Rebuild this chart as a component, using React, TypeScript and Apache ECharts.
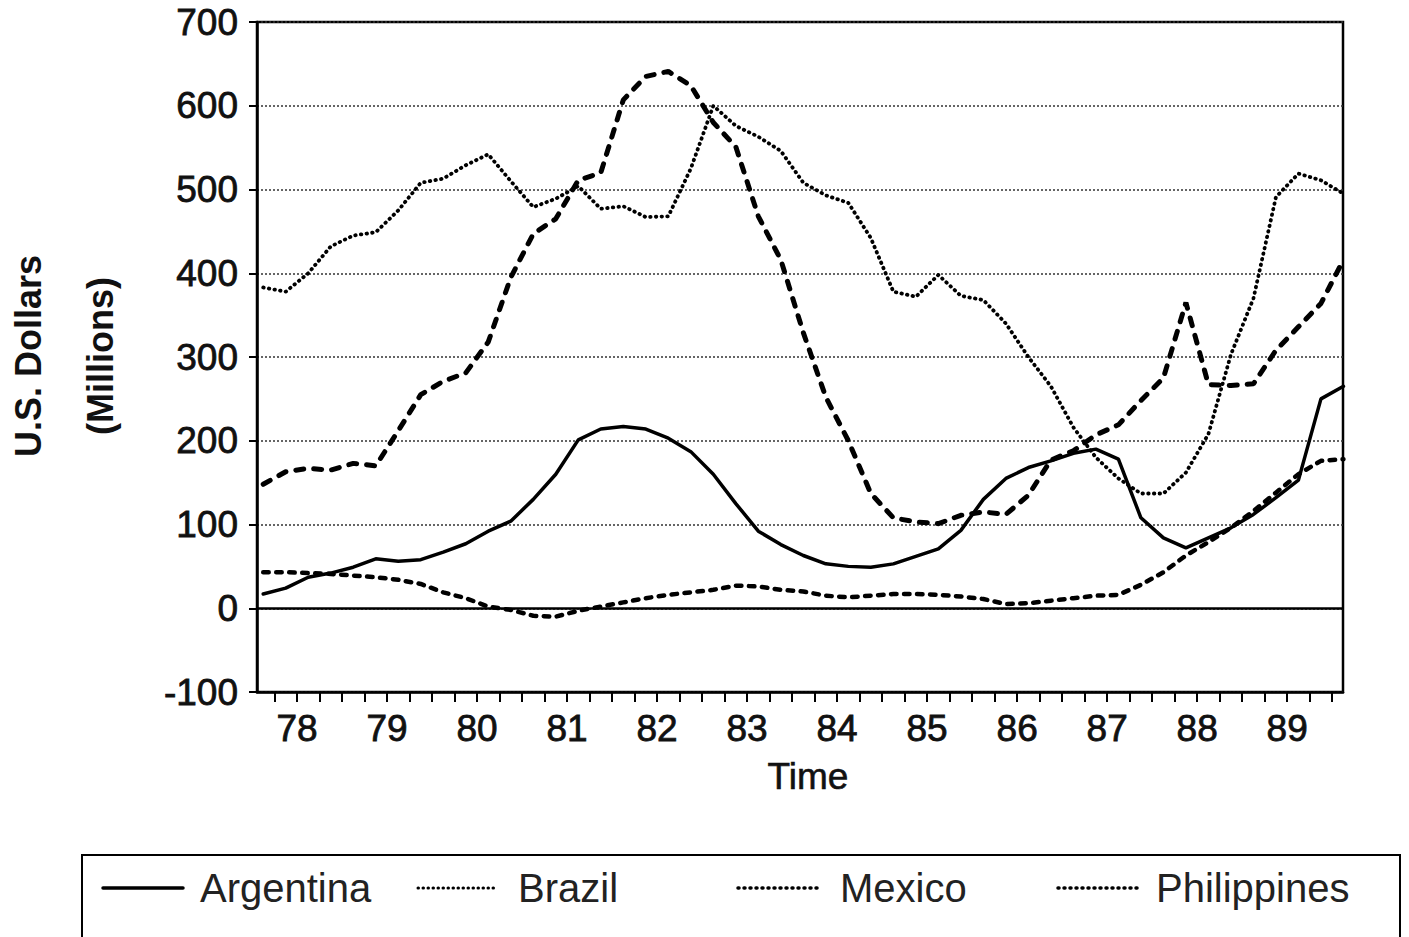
import React, { useEffect, useRef } from "react";
import * as echarts from "echarts";

// Quarterly observations, 1978Q1 .. 1990Q1
const QUARTERS: string[] = [];
for (let y = 1978; y <= 1990; y++) {
  for (let q = 1; q <= 4; q++) {
    if (y === 1990 && q > 1) break;
    QUARTERS.push(`${y}Q${q}`);
  }
}
// year label "78" is centred on the middle of 1978
const quarterToAxis = (s: string) => {
  const y = Number(s.slice(2, 4));
  const q = Number(s.slice(5));
  return y - 0.375 + 0.25 * (q - 1);
};

const YEAR_LABELS = [78, 79, 80, 81, 82, 83, 84, 85, 86, 87, 88, 89];
const Y_TICKS = [-100, 0, 100, 200, 300, 400, 500, 600, 700];

const SERIES_NAMES = ["Argentina", "Brazil", "Mexico", "Philippines"];

const ARGENTINA = [
  17, 24, 37, 42, 49, 59, 56, 58, 67, 77, 92, 104, 130, 160, 201, 214, 217, 214, 203, 187,
  160, 125, 92, 76, 63, 53, 50, 49, 53, 62, 71, 93, 130, 155, 168, 176, 185, 190, 178, 108,
  84, 72, 84, 96, 112, 132, 153, 250, 265,
];
const BRAZIL = [
  383, 378, 400, 432, 445, 449, 475, 508, 513, 529, 542, 510, 479, 489, 504, 477, 480, 467, 468, 525,
  600, 576, 563, 546, 508, 493, 484, 442, 378, 372, 398, 373, 368, 340, 300, 265, 216, 180, 155, 137,
  137, 162, 208, 303, 370, 491, 519, 511, 495,
];
const MEXICO = [
  148, 163, 167, 165, 173, 170, 212, 255, 271, 281, 318, 395, 447, 465, 511, 520, 607, 635, 641, 624,
  580, 551, 468, 416, 329, 252, 200, 137, 108, 103, 101, 111, 115, 112, 135, 177, 188, 207, 219, 248,
  275, 365, 267, 266, 268, 308, 336, 364, 416,
];
const PHILIPPINES = [
  43, 43, 42, 41, 39, 37, 34, 29, 19, 12, 2, -2, -9, -10, -3, 2, 7, 12, 16, 19,
  22, 27, 26, 22, 20, 15, 13, 15, 17, 17, 16, 14, 11, 5, 6, 9, 12, 15, 16, 28,
  43, 63, 79, 96, 116, 138, 160, 176, 178,
];

const FONT = "'Liberation Sans', Arial, Helvetica, sans-serif";
const INK = "#111";

const STYLES: Record<string, any> = {
  Argentina: { width: 3.5, type: "solid", cap: "round" },
  Brazil: { width: 3.8, type: [0.5, 5.2], cap: "round" },
  Mexico: { width: 5, type: [8, 10], cap: "round" },
  Philippines: { width: 4.5, type: [5.5, 7.5], cap: "round" },
};

export default function App() {
  const ref = useRef<HTMLDivElement>(null);

  useEffect(() => {
    if (!ref.current) return;
    const chart = echarts.init(ref.current, undefined, { renderer: "svg" });
    const values = [ARGENTINA, BRAZIL, MEXICO, PHILIPPINES];

    const quarterTicks: number[] = [];
    for (let k = 0; k < 48; k++) quarterTicks.push(77.75 + 0.25 * k);

    const series: any[] = SERIES_NAMES.map((name, k) => ({
      name,
      type: "line",
      symbol: "none",
      silent: true,
      data: values[k].map((v, i) => [quarterToAxis(QUARTERS[i]), v]),
      lineStyle: { color: "#000", ...STYLES[name] },
      z: 3,
    }));
    series[0].markLine = {
      silent: true,
      symbol: "none",
      label: { show: false },
      lineStyle: { color: "#000", width: 2.5, type: "solid" },
      data: [{ yAxis: 0 }],
      z: 2,
    };

    const legendX = [103, 418, 738, 1058];
    const legendText = [200, 518, 840, 1156];
    const legendDash: any[] = [null, [0.5, 4.5], [1, 5], [1, 5]];
    const legendWidth = [3.5, 3, 3.5, 3.5];

    const titleStyle = {
      fontSize: 36,
      fontWeight: "bold",
      fontFamily: FONT,
      fill: INK,
      align: "center",
      verticalAlign: "middle",
    };

    const graphic: any[] = [
      { type: "text", x: 28, y: 356, rotation: Math.PI / 2, style: { text: "U.S. Dollars", ...titleStyle } },
      { type: "text", x: 100, y: 356, rotation: Math.PI / 2, style: { text: "(Millions)", ...titleStyle } },
      {
        type: "text",
        x: 808,
        y: 776,
        style: {
          text: "Time",
          fontSize: 37,
          fontFamily: FONT,
          fill: INK,
          stroke: INK,
          lineWidth: 0.6,
          align: "center",
          verticalAlign: "middle",
        },
      },
      {
        type: "rect",
        shape: { x: 82, y: 855, width: 1318, height: 130 },
        style: { fill: "none", stroke: "#000", lineWidth: 2 },
      },
    ];
    SERIES_NAMES.forEach((name, k) => {
      graphic.push({
        type: "line",
        shape: { x1: legendX[k], y1: 888, x2: legendX[k] + 80, y2: 888 },
        style: {
          stroke: "#000",
          lineWidth: legendWidth[k],
          lineDash: legendDash[k],
          lineCap: "round",
        },
      });
      graphic.push({
        type: "text",
        x: legendText[k],
        y: 888,
        style: {
          text: name,
          fontSize: 40,
          fontFamily: FONT,
          fill: "#222",
          align: "left",
          verticalAlign: "middle",
        },
      });
    });

    chart.setOption({
      animation: false,
      backgroundColor: "#fff",
      grid: {
        left: 257,
        right: 66,
        top: 22,
        bottom: 245,
        show: true,
        borderColor: "#000",
        borderWidth: 2.5,
        backgroundColor: "transparent",
      },
      xAxis: {
        type: "value",
        min: 77.556,
        max: 89.62,
        axisLine: { show: true, onZero: false, lineStyle: { color: "#000", width: 2.5 } },
        axisTick: {
          show: true,
          length: 10,
          customValues: quarterTicks,
          lineStyle: { color: "#000", width: 2 },
        },
        axisLabel: {
          customValues: YEAR_LABELS,
          formatter: (v: number) => String(Math.round(v)),
          fontSize: 37,
          fontFamily: FONT,
          color: INK,
          textBorderColor: INK,
          textBorderWidth: 0.8,
          margin: 18,
        },
        splitLine: { show: false },
      },
      yAxis: {
        type: "value",
        min: -100,
        max: 700,
        interval: 100,
        axisLine: { show: true, lineStyle: { color: "#000", width: 2.5 } },
        axisTick: { show: true, length: 8, lineStyle: { color: "#000", width: 2 } },
        axisLabel: {
          fontSize: 37,
          fontFamily: FONT,
          color: INK,
          textBorderColor: INK,
          textBorderWidth: 0.8,
          margin: 19,
          formatter: (v: number) => (Y_TICKS.includes(v) ? String(v) : ""),
        },
        splitLine: { show: true, lineStyle: { color: "#333", width: 1.5, type: [2, 2] } },
      },
      series,
      graphic,
    });

    return () => chart.dispose();
  }, []);

  return (
    <div
      ref={ref}
      style={{ position: "fixed", left: 0, top: 0, width: 1409, height: 937, background: "#fff" }}
    />
  );
}
